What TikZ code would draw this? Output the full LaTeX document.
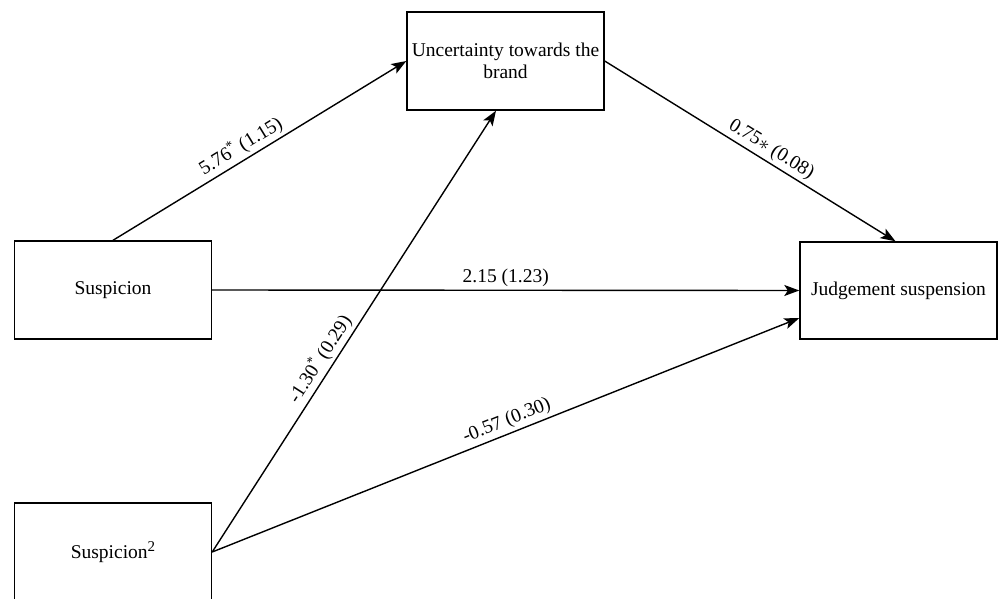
\documentclass[tikz,border=0pt]{standalone}
\usepackage{fontspec}
\setmainfont{Liberation Serif}
\usepackage{tikz}
\usetikzlibrary{arrows.meta}

\begin{document}
\begin{tikzpicture}[x=1pt, y=-1pt,
    var_node/.style={rectangle, draw, line width=1.4pt, minimum width=197pt, minimum height=98pt, inner sep=0pt, align=center, font=\fontsize{19.5}{21.5}\selectfont},
    path_arrow/.style={line width=1.4pt, -{Stealth[length=15pt, width=11pt, inset=3.5pt]}},
    coef/.style={sloped, above, inner sep=3pt, font=\fontsize{19.5}{21.5}\selectfont}]
    \useasboundingbox (0,0) rectangle (998,599);
    \node[var_node] (unc) at (505.5,61) {Uncertainty towards the\\brand};
    \node[var_node] (susp) at (113,290) {Suspicion};
    \node[var_node] (susp2) at (113,552) {Suspicion\raisebox{7pt}{\fontsize{15}{15}\selectfont 2}};
    \node[var_node, minimum height=97pt] (judg) at (898.5,290.5) {Judgement suspension};

    \draw[path_arrow] (susp.north) -- node[coef, pos=0.46] {5.76\textsuperscript{*} (1.15)} (unc.west);
    \draw[path_arrow] (unc.east) -- node[coef, pos=0.55] {0.75$\ast$ (0.08)} ([xshift=-3pt]judg.north);
    \draw[path_arrow] (susp.east) -- node[coef, pos=0.5] {2.15 (1.23)} (judg.west);
    \draw[path_arrow] (susp2.east) -- node[coef, pos=0.42] {-1.30\textsuperscript{*} (0.29)} ([xshift=-9.5pt]unc.south);
    \draw[path_arrow] (susp2.east) -- node[coef, pos=0.51] {-0.57 (0.30)} ([yshift=-27.5pt]judg.west);

\end{tikzpicture}
\end{document}
